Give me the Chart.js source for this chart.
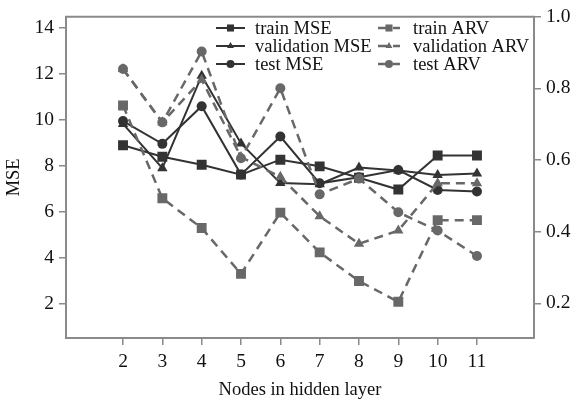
<!DOCTYPE html>
<html>
<head>
<meta charset="utf-8">
<script src="https://cdn.jsdelivr.net/npm/chart.js@4.4.1/dist/chart.umd.min.js"></script>
<style>
  html, body { margin: 0; padding: 0; background: #fff; }
  #wrap { width: 573px; height: 400px; position: relative; }
</style>
</head>
<body>
<div id="wrap"><canvas id="nodesChart"></canvas></div>
<script>
// values
const nodes = [2, 3, 4, 5, 6, 7, 8, 9, 10, 11];
const trainMSE = [8.9, 8.4, 8.05, 7.62, 8.27, 7.98, 7.48, 6.97, 8.45, 8.45];
const validationMSE = [9.83, 7.9, 11.93, 8.98, 7.25, 7.2, 7.93, 7.8, 7.6, 7.67];
const testMSE = [9.95, 8.96, 10.6, 7.62, 9.28, 7.24, 7.5, 7.82, 6.95, 6.88];
const trainARV = [0.752, 0.493, 0.41, 0.282, 0.453, 0.342, 0.262, 0.204, 0.432, 0.432];
const validationARV = [0.854, 0.705, 0.824, 0.608, 0.553, 0.443, 0.366, 0.403, 0.535, 0.535];
const testARV = [0.854, 0.705, 0.903, 0.605, 0.8, 0.504, 0.548, 0.454, 0.403, 0.332];

const mseTicks = [2, 4, 6, 8, 10, 12, 14];
const arvTicks = [0.2, 0.4, 0.6, 0.8, 1.0];

const FONT = "'Liberation Serif', 'DejaVu Serif', serif";
const DARK = "#333333";
const GRAY = "#686868";
const AXIS = "#8a8a8a";

function pts(values) {
    return nodes.map((n, i) => ({ x: n, y: values[i] }));
}

function mseSet(label, values, style, radius) {
    return {
        label: label,
        data: pts(values),
        yAxisID: "y",
        borderColor: DARK,
        backgroundColor: DARK,
        borderWidth: 2,
        pointStyle: style,
        pointRadius: radius,
        pointBorderWidth: 0,
        order: 2,
    };
}

function arvSet(label, values, style, radius) {
    return {
        label: label,
        data: pts(values),
        yAxisID: "y1",
        borderColor: GRAY,
        backgroundColor: GRAY,
        borderWidth: 2.5,
        borderDash: [9, 6],
        pointStyle: style,
        pointRadius: radius,
        pointBorderWidth: 0,
        order: 1,
    };
}

function drawMarker(ctx, style, x, y, r) {
    ctx.beginPath();
    if (style === "rect") {
        const s = r * Math.SQRT1_2;
        ctx.rect(x - s, y - s, 2 * s, 2 * s);
    } else if (style === "triangle") {
        ctx.moveTo(x, y - r);
        ctx.lineTo(x + r * 0.866, y + r * 0.5);
        ctx.lineTo(x - r * 0.866, y + r * 0.5);
        ctx.closePath();
    } else {
        ctx.arc(x, y, r, 0, Math.PI * 2);
    }
    ctx.fill();
}

// two-column legend inside the plot, plus the frame's top edge
const frameLegend = {
    id: "frameLegend",
    afterDraw(chart) {
        const ctx = chart.ctx;
        const a = chart.chartArea;
        ctx.save();
        ctx.strokeStyle = AXIS;
        ctx.lineWidth = 2;
        ctx.beginPath();
        ctx.moveTo(a.left - 1, a.top);
        ctx.lineTo(a.right + 1, a.top);
        ctx.stroke();

        const rows = [28, 46, 64];
        const cols = [
            { x0: 216, x1: 245, tx: 255 },
            { x0: 378, x1: 400, tx: 413 },
        ];
        const sets = chart.data.datasets;
        ctx.font = "18.5px " + FONT;
        ctx.textBaseline = "middle";
        sets.forEach((ds, i) => {
            const c = cols[i < 3 ? 0 : 1];
            const y = rows[i % 3];
            ctx.strokeStyle = ds.borderColor;
            ctx.lineWidth = ds.borderWidth;
            ctx.setLineDash(ds.borderDash || []);
            ctx.beginPath();
            ctx.moveTo(c.x0, y);
            ctx.lineTo(c.x1, y);
            ctx.stroke();
            ctx.setLineDash([]);
            ctx.fillStyle = ds.backgroundColor;
            drawMarker(ctx, ds.pointStyle, (c.x0 + c.x1) / 2, y, ds.pointStyle === "rect" ? 5 : 4);
            ctx.fillStyle = "#111";
            ctx.fillText(ds.label, c.tx, y + 1);
        });
        ctx.restore();
    },
};

const tickFont = { family: FONT, size: 19.5 };
const titleFont = { family: FONT, size: 18.5 };

new Chart(document.getElementById("nodesChart"), {
    type: "line",
    data: {
        datasets: [
            mseSet("train MSE", trainMSE, "rect", 7),
            mseSet("validation MSE", validationMSE, "triangle", 6),
            mseSet("test MSE", testMSE, "circle", 5),
            arvSet("train ARV", trainARV, "rect", 7),
            arvSet("validation ARV", validationARV, "triangle", 6),
            arvSet("test ARV", testARV, "circle", 5),
        ],
    },
    options: {
        responsive: true,
        maintainAspectRatio: false,
        animation: false,
        layout: { padding: { top: 13, left: 0, right: 0, bottom: 0 } },
        plugins: {
            legend: { display: false },
            tooltip: { enabled: false },
        },
        scales: {
            x: {
                type: "linear",
                min: 0.55,
                max: 12.45,
                afterBuildTicks: (s) => { s.ticks = nodes.map((v) => ({ value: v })); },
                afterFit: (s) => { s.height = 62; },
                ticks: { font: tickFont, color: "#111", padding: 5 },
                grid: { drawOnChartArea: false, tickLength: 7, color: AXIS, lineWidth: 1.5 },
                border: { color: AXIS, width: 2 },
                title: {
                    display: true,
                    text: "Nodes in hidden layer",
                    font: titleFont,
                    color: "#111",
                    padding: { top: 0, bottom: -1 },
                },
            },
            y: {
                position: "left",
                min: 0.5,
                max: 14.5,
                afterBuildTicks: (s) => { s.ticks = mseTicks.map((v) => ({ value: v })); },
                afterFit: (s) => { s.width = 66; },
                ticks: { font: tickFont, color: "#111", padding: 5 },
                grid: { drawOnChartArea: false, tickLength: 7, color: AXIS, lineWidth: 1.5 },
                border: { color: AXIS, width: 2 },
                title: {
                    display: true,
                    text: "MSE",
                    font: titleFont,
                    color: "#111",
                    padding: { top: 3, bottom: 0 },
                },
            },
            y1: {
                position: "right",
                min: 0.103,
                max: 1.0,
                afterBuildTicks: (s) => { s.ticks = arvTicks.map((v) => ({ value: v })); },
                afterFit: (s) => { s.width = 39; },
                ticks: {
                    font: tickFont,
                    color: "#111",
                    padding: 5,
                    callback: (v) => Number(v).toFixed(1),
                },
                grid: { drawOnChartArea: false, tickLength: 7, color: AXIS, lineWidth: 1.5 },
                border: { color: AXIS, width: 2 },
            },
        },
    },
    plugins: [frameLegend],
});
</script>
</body>
</html>
